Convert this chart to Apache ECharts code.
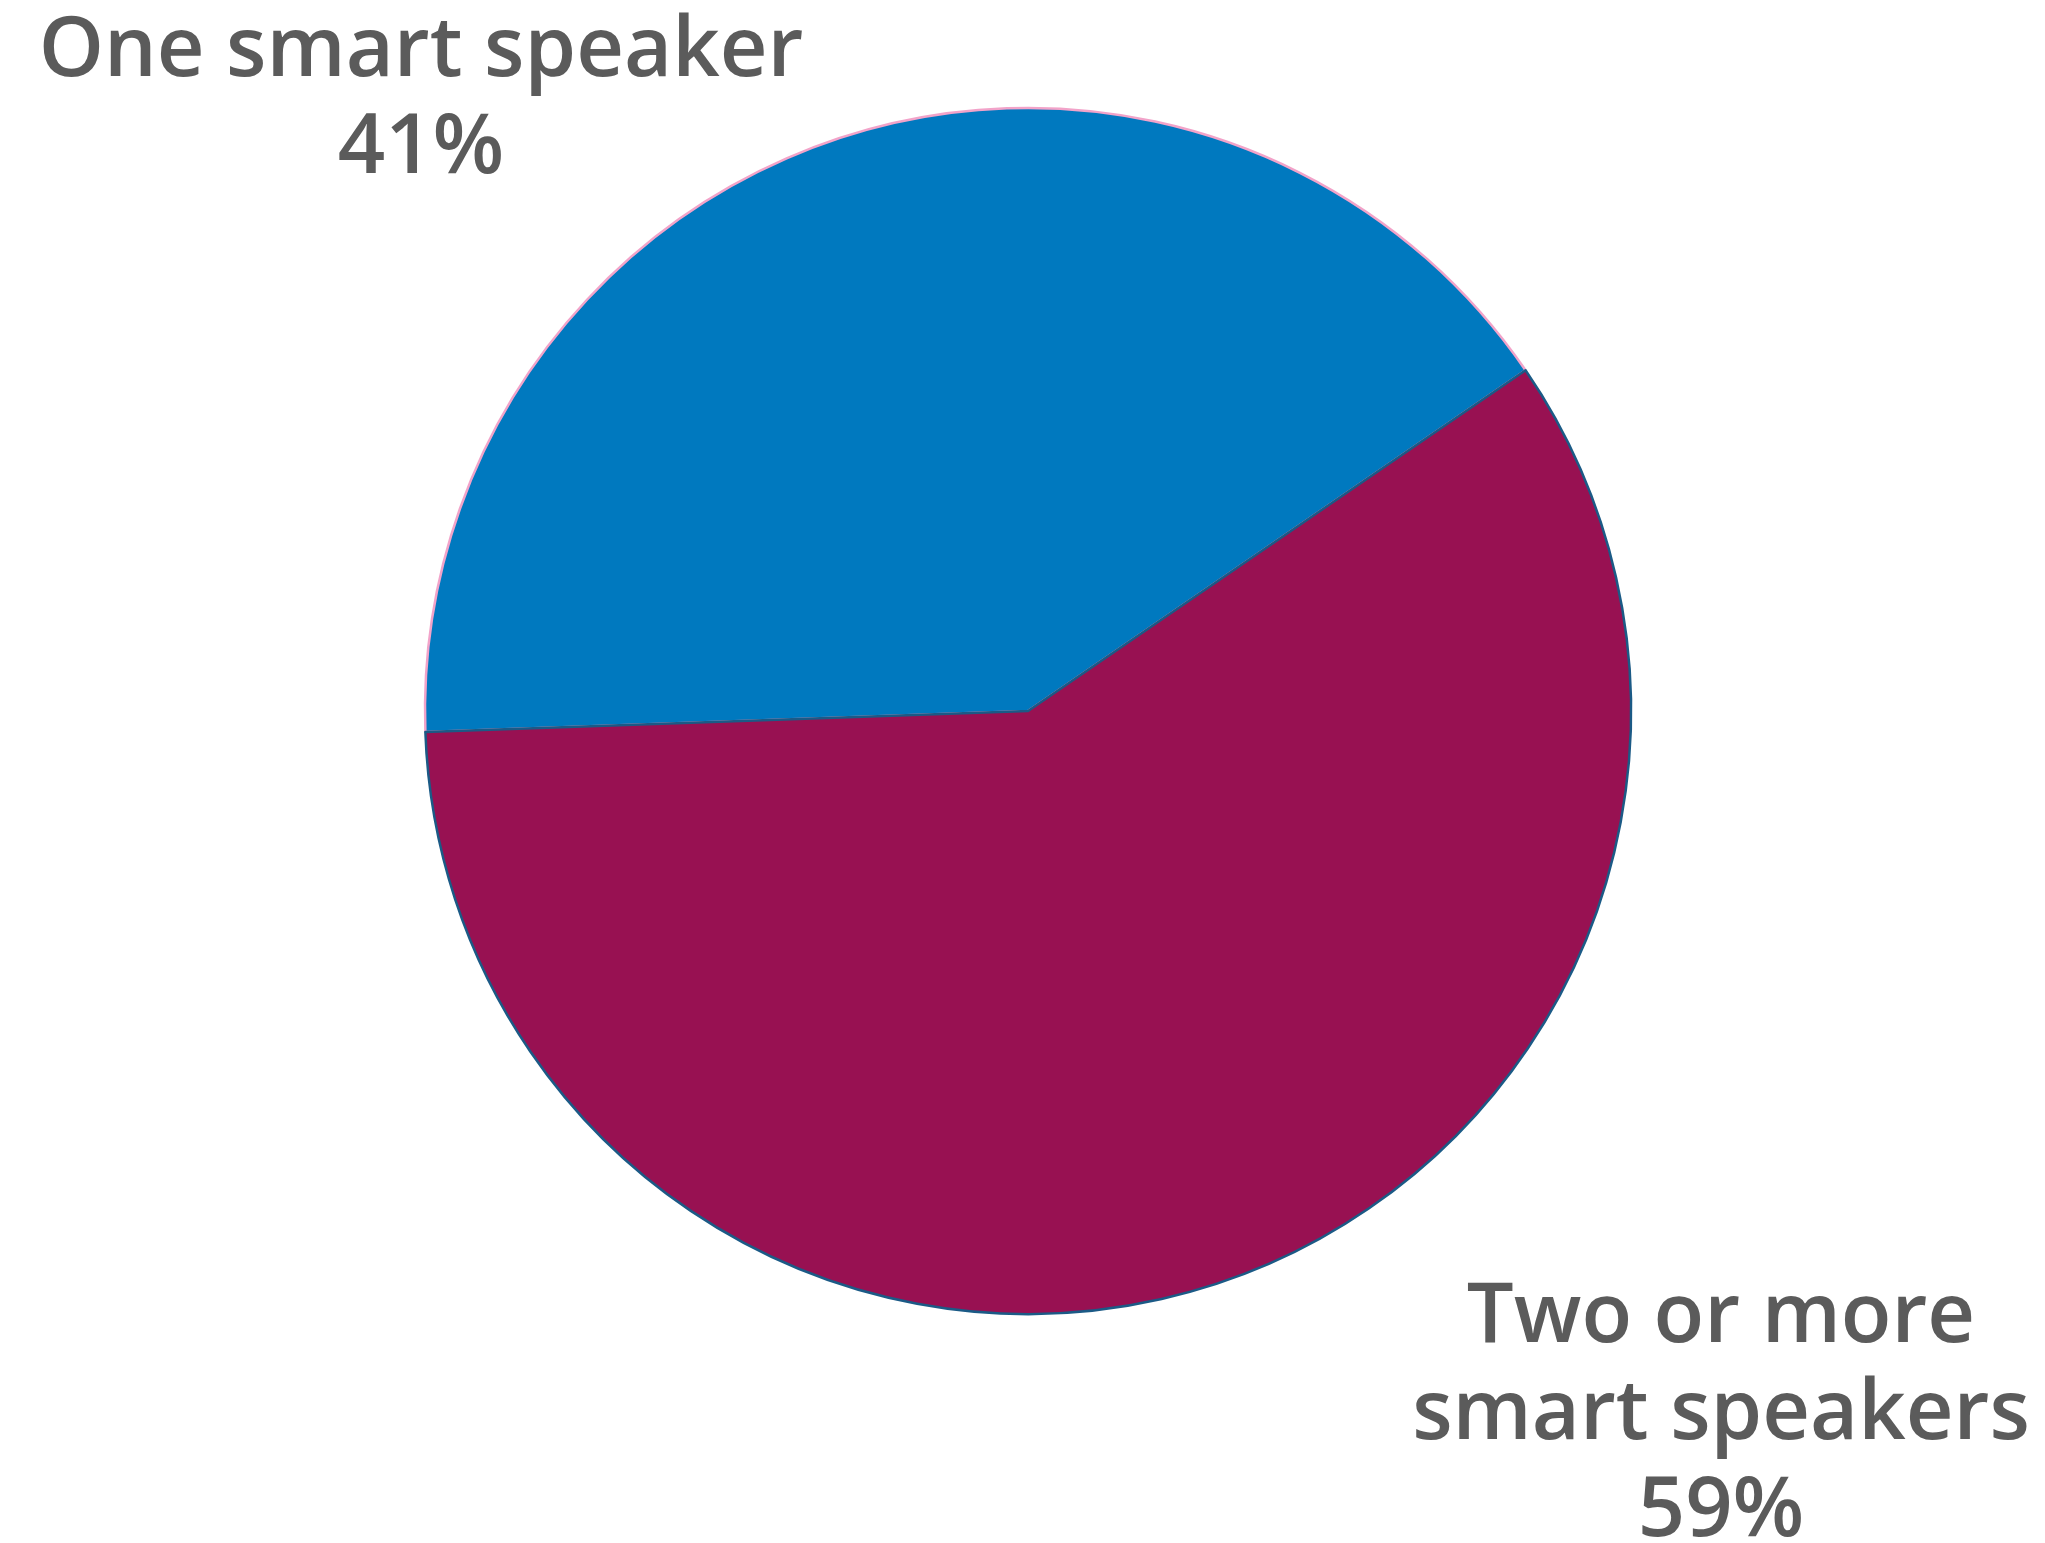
<!DOCTYPE html>
<html>
<head>
<meta charset="utf-8">
<script src="https://cdn.jsdelivr.net/npm/echarts@6/dist/echarts.min.js"></script>
<style>
html,body{margin:0;padding:0;background:#fff;}
#c{width:2045px;height:1543px;}
</style>
</head>
<body>
<div id="c"></div>
<script>
const categories = ['One smart speaker', 'Two or more smart speakers'];
const labelLines = [['One smart speaker'], ['Two or more', 'smart speakers']];
const values = [41, 59];
const colors = ['#0079BF', '#981152'];
const borderColors = ['#F2A3C9', '#1B5A86'];
const labelPos = [[421, 101], [1721, 1415]];

const chart = echarts.init(document.getElementById('c'));
chart.setOption({
  backgroundColor: '#ffffff',
  animation: false,
  series: [{
    type: 'pie',
    center: [1028, 711],
    radius: [0, 603],
    startAngle: 182,
    clockwise: true,
    data: categories.map((n, i) => ({
      name: n,
      value: values[i],
      itemStyle: { color: colors[i], borderColor: borderColors[i], borderWidth: 2.5 }
    })),
    label: {
      show: true,
      position: 'outside',
      formatter: p => labelLines[p.dataIndex].join('\n') + '\n' + values[p.dataIndex] + '%',
      fontFamily: 'Open Sans',
      fontWeight: 600,
      fontSize: 83,
      lineHeight: 97,
      color: '#5b5b5b',
      align: 'center'
    },
    labelLine: { show: false },
    labelLayout: p => ({
      x: labelPos[p.dataIndex][0],
      y: labelPos[p.dataIndex][1],
      align: 'center',
      verticalAlign: 'middle'
    }),
    emphasis: { disabled: true }
  }]
});
</script>
</body>
</html>
